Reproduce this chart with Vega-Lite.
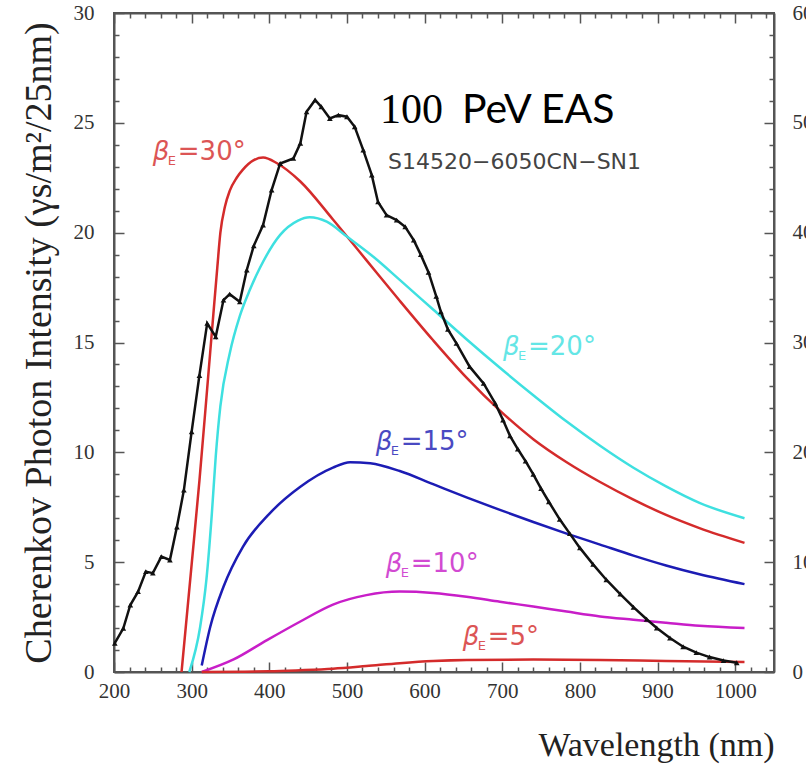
{
  "$schema": "https://vega.github.io/schema/vega-lite/v6.json",
  "width": 660,
  "height": 659,
  "autosize": "none",
  "padding": {"left": 114, "top": 13, "right": 32, "bottom": 95},
  "background": "white",
  "config": {
    "view": {"stroke": "#555", "strokeWidth": 2},
    "axis": {"grid": false, "labelFont": "Liberation Serif", "titleFont": "Liberation Serif", "labelColor": "#333", "titleColor": "#222", "tickColor": "#555", "domainColor": "#555", "domainWidth": 2, "tickWidth": 1.5, "labelFlush": false}
  },
  "datasets": {
    "curves": [
      {"s": "30", "w": 287, "v": 0}, {"s": "30", "w": 300, "v": 4.9}, {"s": "30", "w": 310, "v": 8.7}, {"s": "30", "w": 320, "v": 12.9}, {"s": "30", "w": 328, "v": 16.3}, {"s": "30", "w": 333, "v": 18.4}, {"s": "30", "w": 337, "v": 20.0}, {"s": "30", "w": 343, "v": 21.2}, {"s": "30", "w": 349, "v": 21.9}, {"s": "30", "w": 358, "v": 22.5}, {"s": "30", "w": 366, "v": 22.87}, {"s": "30", "w": 380, "v": 23.3}, {"s": "30", "w": 392, "v": 23.42}, {"s": "30", "w": 410, "v": 23.16}, {"s": "30", "w": 440, "v": 22.33}, {"s": "30", "w": 482, "v": 20.6}, {"s": "30", "w": 525, "v": 18.75}, {"s": "30", "w": 568, "v": 16.9}, {"s": "30", "w": 611, "v": 15.1}, {"s": "30", "w": 654, "v": 13.4}, {"s": "30", "w": 697, "v": 11.9}, {"s": "30", "w": 740, "v": 10.6}, {"s": "30", "w": 783, "v": 9.55}, {"s": "30", "w": 826, "v": 8.65}, {"s": "30", "w": 869, "v": 7.85}, {"s": "30", "w": 911, "v": 7.15}, {"s": "30", "w": 954, "v": 6.55}, {"s": "30", "w": 1012, "v": 5.88},
      {"s": "20", "w": 297, "v": 0}, {"s": "20", "w": 311, "v": 2.06}, {"s": "20", "w": 319, "v": 4.2}, {"s": "20", "w": 326, "v": 7.2}, {"s": "20", "w": 331, "v": 9.8}, {"s": "20", "w": 337, "v": 12.1}, {"s": "20", "w": 349, "v": 14.5}, {"s": "20", "w": 362, "v": 16.2}, {"s": "20", "w": 375, "v": 17.4}, {"s": "20", "w": 388, "v": 18.4}, {"s": "20", "w": 414, "v": 19.9}, {"s": "20", "w": 437, "v": 20.55}, {"s": "20", "w": 452, "v": 20.7}, {"s": "20", "w": 474, "v": 20.5}, {"s": "20", "w": 500, "v": 19.82}, {"s": "20", "w": 534, "v": 18.9}, {"s": "20", "w": 568, "v": 17.85}, {"s": "20", "w": 611, "v": 16.5}, {"s": "20", "w": 654, "v": 15.15}, {"s": "20", "w": 697, "v": 13.85}, {"s": "20", "w": 740, "v": 12.6}, {"s": "20", "w": 783, "v": 11.4}, {"s": "20", "w": 826, "v": 10.3}, {"s": "20", "w": 869, "v": 9.3}, {"s": "20", "w": 911, "v": 8.45}, {"s": "20", "w": 954, "v": 7.7}, {"s": "20", "w": 1012, "v": 7.0},
      {"s": "15", "w": 313, "v": 0.3}, {"s": "15", "w": 324, "v": 2.06}, {"s": "15", "w": 341, "v": 3.88}, {"s": "15", "w": 366, "v": 5.7}, {"s": "15", "w": 400, "v": 7.2}, {"s": "15", "w": 440, "v": 8.43}, {"s": "15", "w": 482, "v": 9.3}, {"s": "15", "w": 504, "v": 9.55}, {"s": "15", "w": 530, "v": 9.5}, {"s": "15", "w": 568, "v": 9.15}, {"s": "15", "w": 611, "v": 8.55}, {"s": "15", "w": 654, "v": 7.95}, {"s": "15", "w": 697, "v": 7.38}, {"s": "15", "w": 740, "v": 6.83}, {"s": "15", "w": 783, "v": 6.3}, {"s": "15", "w": 826, "v": 5.8}, {"s": "15", "w": 869, "v": 5.3}, {"s": "15", "w": 911, "v": 4.85}, {"s": "15", "w": 954, "v": 4.45}, {"s": "15", "w": 1012, "v": 4.0},
      {"s": "10", "w": 313, "v": 0}, {"s": "10", "w": 354, "v": 0.57}, {"s": "10", "w": 397, "v": 1.45}, {"s": "10", "w": 440, "v": 2.3}, {"s": "10", "w": 482, "v": 3.07}, {"s": "10", "w": 525, "v": 3.5}, {"s": "10", "w": 568, "v": 3.66}, {"s": "10", "w": 611, "v": 3.6}, {"s": "10", "w": 654, "v": 3.43}, {"s": "10", "w": 697, "v": 3.2}, {"s": "10", "w": 740, "v": 2.98}, {"s": "10", "w": 783, "v": 2.75}, {"s": "10", "w": 826, "v": 2.53}, {"s": "10", "w": 869, "v": 2.38}, {"s": "10", "w": 911, "v": 2.24}, {"s": "10", "w": 954, "v": 2.1}, {"s": "10", "w": 1012, "v": 2.0},
      {"s": "5", "w": 313, "v": 0}, {"s": "5", "w": 400, "v": 0.03}, {"s": "5", "w": 440, "v": 0.08}, {"s": "5", "w": 482, "v": 0.15}, {"s": "5", "w": 525, "v": 0.27}, {"s": "5", "w": 568, "v": 0.4}, {"s": "5", "w": 611, "v": 0.5}, {"s": "5", "w": 654, "v": 0.55}, {"s": "5", "w": 740, "v": 0.57}, {"s": "5", "w": 826, "v": 0.55}, {"s": "5", "w": 911, "v": 0.5}, {"s": "5", "w": 1012, "v": 0.45}
    ],
    "black": [
      {"w": 201, "v": 1.31}, {"w": 212, "v": 1.99}, {"w": 221, "v": 3.05}, {"w": 231, "v": 3.66}, {"w": 241, "v": 4.57}, {"w": 250, "v": 4.5}, {"w": 261, "v": 5.25}, {"w": 272, "v": 5.1}, {"w": 281, "v": 6.6}, {"w": 290, "v": 8.28}, {"w": 300, "v": 10.94}, {"w": 310, "v": 13.5}, {"w": 320, "v": 15.87}, {"w": 331, "v": 15.26}, {"w": 341, "v": 16.93}, {"w": 349, "v": 17.2}, {"w": 362, "v": 16.85}, {"w": 371, "v": 18.3}, {"w": 380, "v": 19.4}, {"w": 392, "v": 20.35}, {"w": 403, "v": 21.94}, {"w": 414, "v": 23.15}, {"w": 431, "v": 23.38}, {"w": 440, "v": 24.07}, {"w": 448, "v": 25.5}, {"w": 459, "v": 26.04}, {"w": 467, "v": 25.73}, {"w": 478, "v": 25.2}, {"w": 489, "v": 25.35}, {"w": 500, "v": 25.28}, {"w": 510, "v": 24.82}, {"w": 521, "v": 23.76}, {"w": 532, "v": 22.62}, {"w": 540, "v": 21.4}, {"w": 551, "v": 20.8}, {"w": 564, "v": 20.57}, {"w": 575, "v": 20.27}, {"w": 586, "v": 19.66}, {"w": 595, "v": 19.0}, {"w": 605, "v": 18.2}, {"w": 615, "v": 17.1}, {"w": 621, "v": 16.4}, {"w": 630, "v": 15.6}, {"w": 641, "v": 14.96}, {"w": 658, "v": 13.9}, {"w": 676, "v": 13.14}, {"w": 691, "v": 12.23}, {"w": 701, "v": 11.47}, {"w": 710, "v": 10.75}, {"w": 720, "v": 10.15}, {"w": 730, "v": 9.6}, {"w": 740, "v": 9.0}, {"w": 750, "v": 8.35}, {"w": 760, "v": 7.75}, {"w": 774, "v": 6.95}, {"w": 787, "v": 6.3}, {"w": 800, "v": 5.65}, {"w": 817, "v": 4.9}, {"w": 834, "v": 4.2}, {"w": 852, "v": 3.55}, {"w": 869, "v": 2.95}, {"w": 886, "v": 2.4}, {"w": 899, "v": 2.0}, {"w": 916, "v": 1.55}, {"w": 933, "v": 1.15}, {"w": 950, "v": 0.88}, {"w": 967, "v": 0.68}, {"w": 985, "v": 0.52}, {"w": 1002, "v": 0.42}
    ],
    "labels": [
      {"s": "30", "w": 250, "v": 23.3, "rest": "=30°"},
      {"s": "20", "w": 701, "v": 14.45, "rest": "=20°"},
      {"s": "15", "w": 537, "v": 10.1, "rest": "=15°"},
      {"s": "10", "w": 550, "v": 4.55, "rest": "=10°"},
      {"s": "5", "w": 649, "v": 1.25, "rest": "=5°"}
    ]
  },
  "layer": [
    {
      "data": {"name": "curves"},
      "mark": {"type": "line", "strokeWidth": 2.5, "interpolate": "monotone"},
      "encoding": {
        "x": {"field": "w", "type": "quantitative", "scale": {"domain": [200, 1050], "nice": false},
          "axis": {"orient": "bottom", "values": [200, 300, 400, 500, 600, 700, 800, 900, 1000], "format": "d", "tickSize": -10, "labelFontSize": 21, "labelPadding": 18, "title": "Wavelength (nm)", "titleFontSize": 34, "titleFontWeight": "normal", "titleAnchor": "end", "titleAlign": "right", "titlePadding": 27}},
        "y": {"field": "v", "type": "quantitative", "scale": {"domain": [0, 30], "nice": false},
          "axis": {"orient": "left", "values": [0, 5, 10, 15, 20, 25, 30], "tickSize": -10, "labelFontSize": 21, "labelPadding": 30, "title": "Cherenkov Photon Intensity (γs/m²/25nm)", "titleFontSize": 38, "titleFontWeight": "normal", "titleX": -64, "titleBaseline": "alphabetic"}},
        "color": {"field": "s", "type": "nominal", "legend": null, "scale": {"domain": ["30", "20", "15", "10", "5"], "range": ["#d42b2b", "#3ee0e0", "#1c1cb4", "#c81ec8", "#d42b2b"]}},
        "detail": {"field": "s"}
      }
    },
    {
      "data": {"name": "black"},
      "mark": {"type": "line", "strokeWidth": 2.5, "color": "#111"},
      "encoding": {
        "x": {"field": "w", "type": "quantitative", "axis": {"orient": "bottom", "values": [220, 240, 260, 280, 320, 340, 360, 380, 420, 440, 460, 480, 520, 540, 560, 580, 620, 640, 660, 680, 720, 740, 760, 780, 820, 840, 860, 880, 920, 940, 960, 980, 1020, 1040], "tickSize": -5, "labels": false, "domain": false, "title": null}},
        "y": {"field": "v", "type": "quantitative", "axis": {"orient": "left", "values": [1, 2, 3, 4, 6, 7, 8, 9, 11, 12, 13, 14, 16, 17, 18, 19, 21, 22, 23, 24, 26, 27, 28, 29], "tickSize": -5, "labels": false, "domain": false, "title": null}}
      }
    },
    {
      "data": {"name": "black"},
      "mark": {"type": "point", "shape": "triangle-up", "filled": true, "size": 32, "color": "#111", "opacity": 1},
      "encoding": {
        "x": {"field": "w", "type": "quantitative", "axis": {"orient": "top", "values": [200, 300, 400, 500, 600, 700, 800, 900, 1000], "tickSize": -10, "labels": false, "title": null}},
        "y": {"field": "v", "type": "quantitative", "axis": {"orient": "right", "values": [0, 5, 10, 15, 20, 25, 30], "tickSize": -10, "labelFontSize": 21, "labelPadding": 28, "labelExpr": "datum.value * 2", "title": null}}
      }
    },
    {
      "data": {"name": "labels"},
      "mark": {"type": "text", "text": "β", "font": "DejaVu Sans", "fontSize": 26, "fontStyle": "italic", "align": "left", "baseline": "alphabetic", "opacity": 0.8},
      "encoding": {
        "x": {"field": "w", "type": "quantitative", "axis": {"orient": "top", "values": [220, 240, 260, 280, 320, 340, 360, 380, 420, 440, 460, 480, 520, 540, 560, 580, 620, 640, 660, 680, 720, 740, 760, 780, 820, 840, 860, 880, 920, 940, 960, 980, 1020, 1040], "tickSize": -5, "labels": false, "domain": false, "title": null}},
        "y": {"field": "v", "type": "quantitative", "axis": {"orient": "right", "values": [1, 2, 3, 4, 6, 7, 8, 9, 11, 12, 13, 14, 16, 17, 18, 19, 21, 22, 23, 24, 26, 27, 28, 29], "tickSize": -5, "labels": false, "domain": false, "title": null}},
        "color": {"field": "s", "type": "nominal", "legend": null}
      }
    },
    {
      "data": {"name": "labels"},
      "mark": {"type": "text", "text": "E", "font": "DejaVu Sans", "fontSize": 13, "align": "left", "baseline": "alphabetic", "dx": 15, "dy": 5, "opacity": 0.8},
      "encoding": {
        "x": {"field": "w", "type": "quantitative", "axis": null},
        "y": {"field": "v", "type": "quantitative", "axis": null},
        "color": {"field": "s", "type": "nominal", "legend": null}
      }
    },
    {
      "data": {"name": "labels"},
      "mark": {"type": "text", "font": "DejaVu Sans", "fontSize": 26, "align": "left", "baseline": "alphabetic", "dx": 25, "opacity": 0.8},
      "encoding": {
        "x": {"field": "w", "type": "quantitative", "axis": null},
        "y": {"field": "v", "type": "quantitative", "axis": null},
        "text": {"field": "rest"},
        "color": {"field": "s", "type": "nominal", "legend": null}
      }
    },
    {
      "data": {"values": [{"w": 542.6, "v": 24.97, "t": "100"}]},
      "mark": {"type": "text", "font": "Liberation Serif", "fontSize": 42, "align": "left", "baseline": "alphabetic", "color": "#000"},
      "encoding": {
        "x": {"field": "w", "type": "quantitative", "axis": null},
        "y": {"field": "v", "type": "quantitative", "axis": null},
        "text": {"field": "t"}
      }
    },
    {
      "data": {"values": [{"w": 648.2, "v": 24.97, "t": "PeV EAS"}]},
      "mark": {"type": "text", "font": "Lato", "fontSize": 41, "align": "left", "baseline": "alphabetic", "color": "#000"},
      "encoding": {
        "x": {"field": "w", "type": "quantitative", "axis": null},
        "y": {"field": "v", "type": "quantitative", "axis": null},
        "text": {"field": "t"}
      }
    },
    {
      "data": {"values": [{"w": 552.9, "v": 22.92, "t": "S14520−6050CN−SN1"}]},
      "mark": {"type": "text", "font": "DejaVu Sans", "fontSize": 22, "align": "left", "baseline": "alphabetic", "color": "#444"},
      "encoding": {
        "x": {"field": "w", "type": "quantitative", "axis": null},
        "y": {"field": "v", "type": "quantitative", "axis": null},
        "text": {"field": "t"}
      }
    }
  ],
  "resolve": {"axis": {"x": "independent", "y": "independent"}}
}
